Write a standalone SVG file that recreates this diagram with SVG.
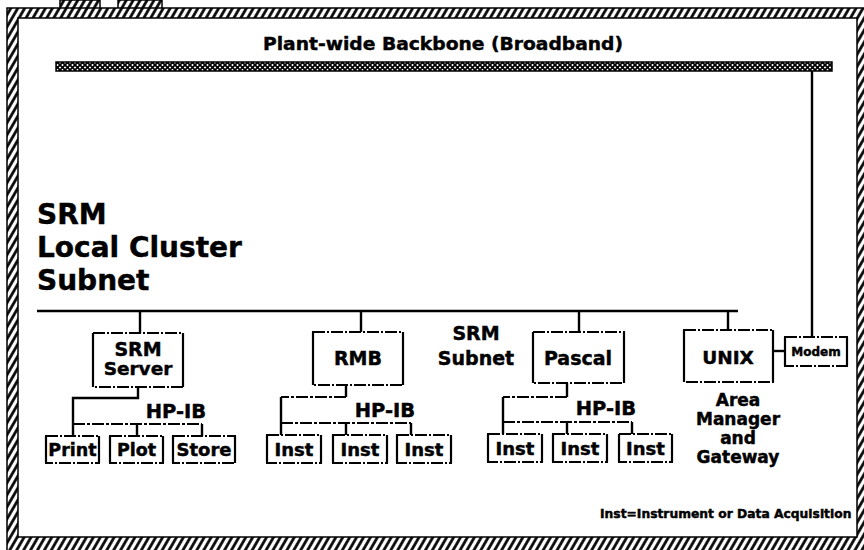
<svg xmlns="http://www.w3.org/2000/svg" width="864" height="550" viewBox="0 0 864 550">
<defs>
<pattern id="hatch" width="6" height="6" patternUnits="userSpaceOnUse" patternTransform="rotate(30)">
<rect width="6" height="6" fill="#fff"/>
<line x1="1.5" y1="0" x2="1.5" y2="6" stroke="#000" stroke-width="2.7"/>
</pattern>
<pattern id="xhatch" width="5" height="5" patternUnits="userSpaceOnUse">
<rect width="5" height="5" fill="#fff"/>
<path d="M0,0 L5,5 M5,0 L0,5" stroke="#000" stroke-width="1.7"/>
</pattern>
<style>
text{font-family:"DejaVu Sans","Liberation Sans",sans-serif;font-weight:bold;fill:#000;stroke:#000;stroke-width:0.45}
.mid{text-anchor:middle}
.box{fill:#fff;stroke:#000;stroke-width:2;stroke-dasharray:12 2 2 2}
.side{stroke:#000;stroke-width:2.2;fill:none}
.wire{stroke:#000;stroke-width:2.4;fill:none}
.bus{stroke:#000;stroke-width:2;fill:none;stroke-dasharray:12 2 3 2}
.frame{stroke:#000;stroke-width:1.5}
</style>
</defs>

<g id="frame">
<rect x="60" y="0" width="40" height="9" fill="url(#hatch)" class="frame"/>
<rect x="118" y="0" width="44" height="9" fill="url(#hatch)" class="frame"/>
<path d="M7,8 H872 V560 H7 Z M18,18 V537 H857 V18 Z" fill="url(#hatch)" fill-rule="evenodd" class="frame"/>
</g>

<g id="backbone">
<rect x="56" y="62" width="776" height="9" fill="url(#xhatch)" stroke="#000" stroke-width="1.5"/>
<text class="mid" x="443" y="50" font-size="18.5" textLength="360" lengthAdjust="spacingAndGlyphs">Plant-wide Backbone (Broadband)</text>
</g>

<g id="subnet-label">
<text x="37" y="224" font-size="28">SRM</text>
<text x="37" y="257" font-size="28">Local Cluster</text>
<text x="37" y="290" font-size="28">Subnet</text>
<text class="mid" x="476" y="340" font-size="19">SRM</text>
<text class="mid" x="476" y="365" font-size="19">Subnet</text>
</g>

<g id="connectors">
<line class="wire" x1="37" y1="311" x2="738" y2="311" stroke-width="3"/>
<line class="wire" x1="140" y1="311" x2="140" y2="333"/>
<line class="wire" x1="361" y1="311" x2="361" y2="332"/>
<line class="wire" x1="579" y1="311" x2="579" y2="332"/>
<line class="wire" x1="728" y1="311" x2="728" y2="330"/>
<line class="wire" x1="812" y1="71" x2="812" y2="337"/>
<line class="wire" x1="773" y1="351" x2="785" y2="351"/>
<path class="wire" d="M138,387 V398 H73 V436"/>
<path class="bus" d="M73,424 H202"/>
<path class="wire" d="M137,424 V436 M202,424 V436"/>
<path class="wire" d="M346,385 V397"/>
<path class="bus" d="M346,397 H281"/>
<path class="wire" d="M281,397 V435"/>
<path class="bus" d="M281,423 H411"/>
<path class="wire" d="M346,423 V435 M411,423 V435"/>
<path class="wire" d="M567,383 V397"/>
<path class="bus" d="M567,397 H503"/>
<path class="wire" d="M503,397 V434"/>
<path class="bus" d="M503,422 H632"/>
<path class="wire" d="M567,422 V434 M632,422 V434"/>
<text class="mid" x="176" y="418" font-size="19.5">HP-IB</text>
<text class="mid" x="385" y="417" font-size="19.5">HP-IB</text>
<text class="mid" x="606" y="415" font-size="19.5">HP-IB</text>
</g>

<g id="srm-server">
<rect class="box" x="93" y="333" width="90" height="54"/>
<path class="side" d="M93,333 V387 M183,333 V387"/>
<text class="mid" x="138" y="356" font-size="19">SRM</text>
<text class="mid" x="138" y="375" font-size="18.5">Server</text>
</g>
<g id="rmb">
<rect class="box" x="313" y="332" width="90" height="53"/>
<path class="side" d="M313,332 V385 M403,332 V385"/>
<text class="mid" x="358" y="365" font-size="19">RMB</text>
</g>
<g id="pascal">
<rect class="box" x="533" y="332" width="91" height="51"/>
<path class="side" d="M533,332 V383 M624,332 V383"/>
<text class="mid" x="578" y="365" font-size="19">Pascal</text>
</g>
<g id="unix">
<rect class="box" x="684" y="330" width="89" height="52"/>
<path class="side" d="M684,330 V382 M773,330 V382"/>
<text class="mid" x="728" y="364" font-size="18.5">UNIX</text>
<text class="mid" x="738" y="406" font-size="17">Area</text>
<text class="mid" x="738" y="425" font-size="17">Manager</text>
<text class="mid" x="738" y="444" font-size="17">and</text>
<text class="mid" x="738" y="463" font-size="17">Gateway</text>
</g>
<g id="modem">
<rect class="box" x="785" y="337" width="62" height="29"/>
<path class="side" d="M785,337 V366 M847,337 V366"/>
<text class="mid" x="816" y="356" font-size="12">Modem</text>
</g>

<g id="print">
<rect class="box" x="46" y="436" width="53" height="27"/>
<path class="side" d="M46,436 V463 M99,436 V463"/>
<text class="mid" x="72.5" y="456" font-size="17.5">Print</text>
</g>
<g id="plot">
<rect class="box" x="110" y="436" width="53" height="27"/>
<path class="side" d="M110,436 V463 M163,436 V463"/>
<text class="mid" x="136.5" y="456" font-size="17.5">Plot</text>
</g>
<g id="store">
<rect class="box" x="173" y="436" width="62" height="27"/>
<path class="side" d="M173,436 V463 M235,436 V463"/>
<text class="mid" x="204" y="456" font-size="18">Store</text>
</g>

<g id="inst-rmb-1">
<rect class="box" x="267" y="435" width="54" height="28"/>
<path class="side" d="M267,435 V463 M321,435 V463"/>
<text class="mid" x="294" y="456" font-size="18">Inst</text>
</g>
<g id="inst-rmb-2">
<rect class="box" x="333" y="435" width="54" height="28"/>
<path class="side" d="M333,435 V463 M387,435 V463"/>
<text class="mid" x="360" y="456" font-size="18">Inst</text>
</g>
<g id="inst-rmb-3">
<rect class="box" x="397" y="435" width="54" height="28"/>
<path class="side" d="M397,435 V463 M451,435 V463"/>
<text class="mid" x="424" y="456" font-size="18">Inst</text>
</g>

<g id="inst-pascal-1">
<rect class="box" x="488" y="434" width="54" height="28"/>
<path class="side" d="M488,434 V462 M542,434 V462"/>
<text class="mid" x="515" y="455" font-size="18">Inst</text>
</g>
<g id="inst-pascal-2">
<rect class="box" x="553" y="434" width="54" height="28"/>
<path class="side" d="M553,434 V462 M607,434 V462"/>
<text class="mid" x="580" y="455" font-size="18">Inst</text>
</g>
<g id="inst-pascal-3">
<rect class="box" x="619" y="434" width="53" height="28"/>
<path class="side" d="M619,434 V462 M672,434 V462"/>
<text class="mid" x="645.5" y="455" font-size="18">Inst</text>
</g>

<g id="legend">
<text x="600" y="518" font-size="12.3">Inst=Instrument or Data Acquisition</text>
</g>
</svg>
